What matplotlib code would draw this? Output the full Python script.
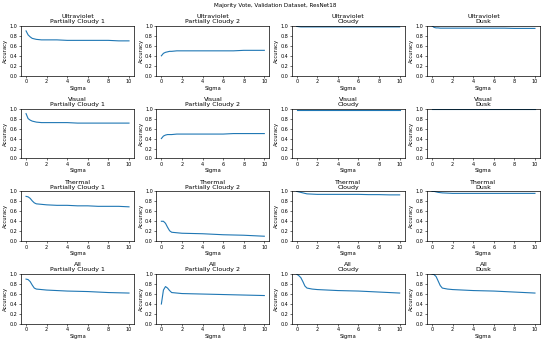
import matplotlib
matplotlib.use('Agg')

import matplotlib.pyplot as plt

# ---------------- DATA ----------------
sigma = [0, 0.2, 0.4, 0.6, 0.8, 1, 1.5, 2, 3, 4, 5, 6, 7, 8, 9, 10]

modalities = ["Ultraviolet", "Visual", "Thermal", "All"]
conditions = ["Partially Cloudy 1", "Partially Cloudy 2", "Cloudy", "Dusk"]

uv_pc1 = [0.90, 0.82, 0.78, 0.75, 0.74, 0.73, 0.72, 0.72, 0.72, 0.71, 0.71, 0.71, 0.71, 0.71, 0.70, 0.70]
uv_pc2 = [0.40, 0.45, 0.47, 0.48, 0.49, 0.49, 0.50, 0.50, 0.50, 0.50, 0.50, 0.50, 0.50, 0.51, 0.51, 0.51]
uv_cloudy = [0.99, 0.985, 0.98, 0.98, 0.98, 0.98, 0.98, 0.98, 0.98, 0.98, 0.98, 0.98, 0.98, 0.98, 0.98, 0.98]
uv_dusk = [1.00, 0.97, 0.96, 0.96, 0.955, 0.955, 0.955, 0.955, 0.955, 0.955, 0.955, 0.955, 0.955, 0.95, 0.95, 0.95]

vis_pc1 = [0.90, 0.80, 0.77, 0.75, 0.74, 0.73, 0.72, 0.72, 0.72, 0.72, 0.71, 0.71, 0.71, 0.71, 0.71, 0.71]
vis_pc2 = [0.40, 0.45, 0.47, 0.48, 0.48, 0.48, 0.49, 0.49, 0.49, 0.49, 0.49, 0.49, 0.50, 0.50, 0.50, 0.50]
vis_cloudy = [0.98, 0.98, 0.98, 0.98, 0.98, 0.98, 0.98, 0.98, 0.98, 0.98, 0.98, 0.98, 0.98, 0.98, 0.98, 0.98]
vis_dusk = [0.995, 0.995, 0.995, 0.995, 0.995, 0.995, 0.995, 0.995, 0.995, 0.995, 0.995, 0.995, 0.995, 0.995, 0.995, 0.995]

th_pc1 = [0.90, 0.89, 0.86, 0.81, 0.77, 0.75, 0.74, 0.73, 0.72, 0.72, 0.71, 0.71, 0.70, 0.70, 0.70, 0.69]
th_pc2 = [0.40, 0.40, 0.36, 0.28, 0.21, 0.18, 0.17, 0.16, 0.155, 0.15, 0.14, 0.13, 0.125, 0.12, 0.11, 0.10]
th_cloudy = [1.00, 0.99, 0.98, 0.97, 0.96, 0.95, 0.945, 0.94, 0.94, 0.94, 0.94, 0.94, 0.935, 0.935, 0.93, 0.93]
th_dusk = [1.00, 1.00, 0.99, 0.98, 0.975, 0.97, 0.965, 0.96, 0.96, 0.96, 0.96, 0.96, 0.96, 0.96, 0.96, 0.96]

all_pc1 = [0.90, 0.89, 0.85, 0.78, 0.72, 0.70, 0.69, 0.68, 0.67, 0.66, 0.655, 0.65, 0.64, 0.63, 0.625, 0.62]
all_pc2 = [0.40, 0.68, 0.75, 0.72, 0.67, 0.63, 0.62, 0.61, 0.605, 0.60, 0.595, 0.59, 0.585, 0.58, 0.575, 0.57]
all_cloudy = [1.00, 0.97, 0.93, 0.85, 0.76, 0.72, 0.70, 0.69, 0.68, 0.67, 0.665, 0.66, 0.65, 0.64, 0.63, 0.62]
all_dusk = [1.00, 0.99, 0.95, 0.86, 0.77, 0.72, 0.70, 0.69, 0.68, 0.67, 0.665, 0.66, 0.65, 0.64, 0.63, 0.62]

results = [
    [uv_pc1, uv_pc2, uv_cloudy, uv_dusk],
    [vis_pc1, vis_pc2, vis_cloudy, vis_dusk],
    [th_pc1, th_pc2, th_cloudy, th_dusk],
    [all_pc1, all_pc2, all_cloudy, all_dusk],
]
# --------------------------------------

fig, axes = plt.subplots(4, 4, figsize=(5.5, 3.41), dpi=100)
fig.subplots_adjust(left=0.038, right=0.982, top=0.924, bottom=0.05,
                    wspace=0.195, hspace=0.66)

for i, mod in enumerate(modalities):
    for j, cond in enumerate(conditions):
        ax = axes[i, j]
        ax.plot(sigma, results[i][j], color='#1f77b4', linewidth=0.8)
        ax.set_ylim(0, 1.0)
        ax.set_xticks([0, 2, 4, 6, 8, 10])
        ax.set_yticks([0, 0.2, 0.4, 0.6, 0.8, 1.0])
        ax.set_title(f"{mod}\n{cond}", fontsize=4.5, pad=2, linespacing=1.0)
        ax.set_xlabel("Sigma", fontsize=3.8, labelpad=1)
        ax.set_ylabel("Accuracy", fontsize=3.8, labelpad=1)
        ax.tick_params(labelsize=3.5, length=1.5, width=0.4, pad=1)
        for s in ax.spines.values():
            s.set_linewidth(0.5)

fig.suptitle("Majority Vote, Validation Dataset, ResNet18", fontsize=4.1, y=0.99)

plt.savefig("out.png", dpi=100)
